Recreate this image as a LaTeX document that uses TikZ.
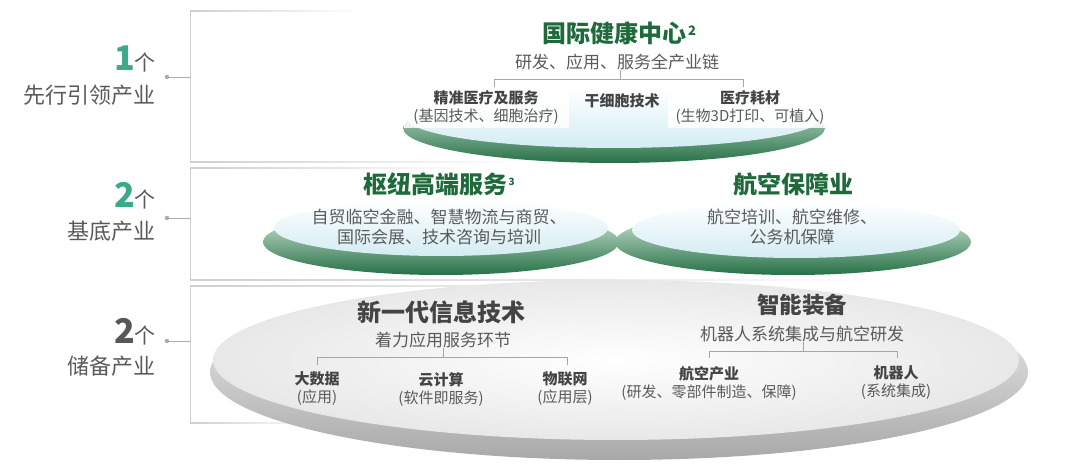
\documentclass[tikz,border=0pt]{standalone}
\usepackage{fontspec}
\setmainfont{Noto Sans CJK SC}
\usepackage{xcolor}
\usepackage{tikz}
\usetikzlibrary{calc}

\definecolor{hubgreen}{HTML}{1E6A3B}
\definecolor{numteal}{HTML}{3DA98A}
\definecolor{txtgray}{HTML}{5A5A5A}
\definecolor{boldgray}{HTML}{444444}
\definecolor{rimgreen}{HTML}{267046}
\definecolor{rimlight}{HTML}{DDF1E3}
\definecolor{topblue}{HTML}{D3ECF2}
\definecolor{framegray}{HTML}{CFCFCF}

\newcommand{\fsz}[1]{\fontsize{#1}{#1}\selectfont}

\begin{document}
\begin{tikzpicture}[x=1pt, y=-1pt,
    every node/.style={inner sep=0pt},
    gtitle/.style={font=\fsz{24}\bfseries, text=hubgreen},
    ctitle/.style={font=\fsz{24}\bfseries, text=boldgray},
    subline/.style={font=\fontsize{17}{20}\selectfont, text=txtgray, align=center},
    item/.style={font=\fontsize{15}{18}\selectfont, text=txtgray, align=center},
    itembox/.style={item, fill=white, fill opacity=0.85, text opacity=1, minimum width=165pt, minimum height=40pt},
    side/.style={font=\fsz{22}, text=txtgray, anchor=east},
    count/.style={anchor=base east, text=txtgray},
    brkline/.style={draw=gray!70, line width=0.9pt},
    pin/.style={circle, fill=gray!65, minimum size=4.5pt},
    pinline/.style={draw=gray!65, line width=0.9pt},
    ]
    \useasboundingbox (0,0) rectangle (1080,473);

    % Frames
    \draw[framegray, line width=1pt] (190,11.5) -- (190,162.5);
    \shade[left color=framegray, right color=white] (190,11) rectangle (360,12);
    \shade[left color=framegray, right color=white] (190,162) rectangle (520,163);
    \draw[framegray, line width=1pt] (190,168) -- (190,280);
    \shade[left color=framegray, right color=white] (190,167.5) rectangle (480,168.5);
    \shade[left color=framegray, right color=white] (190,279.5) rectangle (900,280.5);
    \shade[left color=white, middle color=gray!6, right color=white] (200,286) rectangle (1060,423);
    \draw[framegray, line width=1pt] (190,286) -- (190,423);
    \shade[left color=framegray, right color=white] (190,285.5) rectangle (700,286.5);
    \shade[left color=framegray, right color=white] (190,422.5) rectangle (320,423.5);

    % Left labels
    \node[count] (n1) at (156,71) {{\color{numteal}\fsz{34}\bfseries 1}{\fsz{21}个}};
    \node[side] (l1) at (156,95) {先行引领产业};
    \node[pin] (p1) at (167,77) {};
    \coordinate (f1) at (190,77);
    \draw[pinline] (p1) -- (f1);

    \node[count] (n2) at (156,208) {{\color{numteal}\fsz{34}\bfseries 2}{\fsz{21}个}};
    \node[side] (l2) at (156,231) {基底产业};
    \node[pin] (p2) at (167,218) {};
    \coordinate (f2) at (190,218);
    \draw[pinline] (p2) -- (f2);

    \node[count] (n3) at (156,344) {{\color{boldgray!90}\fsz{34}\bfseries 2}{\fsz{21}个}};
    \node[side] (l3) at (156,366) {储备产业};
    \node[pin] (p3) at (167,341) {};
    \coordinate (f3) at (190,341);
    \draw[pinline] (p3) -- (f3);

    % Reserve disc
    \shade[top color=gray!8, bottom color=gray!68] (619,372) ellipse [x radius=409pt, y radius=88pt];
    \shade[inner color=white, outer color=gray!18] (616,360) ellipse [x radius=403pt, y radius=80pt];

    % Base discs
    \shade[top color=rimlight, bottom color=rimgreen] (441,242) ellipse [x radius=178pt, y radius=33pt];
    \shade[top color=white, bottom color=topblue] (441,228) ellipse [x radius=167pt, y radius=28pt];
    \shade[top color=rimlight, bottom color=rimgreen] (793,242) ellipse [x radius=178pt, y radius=33pt];
    \shade[top color=white, bottom color=topblue] (796,230) ellipse [x radius=164pt, y radius=28pt];

    % Leading disc
    \shade[top color=rimlight, bottom color=rimgreen] (614,128) ellipse [x radius=211pt, y radius=35pt];
    \shade[top color=white, bottom color=topblue] (614,118) ellipse [x radius=207pt, y radius=30pt];

    % International health centre
    \node[gtitle] (health) at (614,33) {国际健康中心\rlap{\raisebox{7pt}{\fsz{13}\,2}}};
    \node[subline] (chain) at (617,62) {研发、应用、服务全产业链};
    \node[itembox] (pmed) at (486,108) {\textcolor{boldgray}{\bfseries 精准医疗及服务}\\(基因技术、细胞治疗)};
    \node[item] (stem) at (622,101) {\textcolor{boldgray}{\bfseries 干细胞技术}};
    \node[itembox] (mat) at (750,108) {\textcolor{boldgray}{\bfseries 医疗耗材}\\(生物3D打印、可植入)};
    \coordinate (tb) at (620,79);
    \draw[brkline] ($(pmed |- tb)+(8,8)$) -- ($(pmed |- tb)+(8,0)$) -- ($(mat |- tb)+(-7,0)$) -- ($(mat |- tb)+(-7,8)$);
    \draw[brkline] (tb |- chain.south) -- (tb);

    % Hub services
    \node[gtitle] (hub) at (435,184) {枢纽高端服务\rlap{\raisebox{8pt}{\fsz{10}\,3}}};
    \node[subline] (hubtxt) at (439,227) {自贸临空金融、智慧物流与商贸、\\国际会展、技术咨询与培训};
    \node[gtitle] (avia) at (793,184) {航空保障业};
    \node[subline] (aviatxt) at (792,227) {航空培训、航空维修、\\公务机保障};

    % Information technology
    \node[ctitle] (info) at (441,312) {新一代信息技术};
    \node[subline] (infosub) at (443,340) {着力应用服务环节};
    \node[item] (bigdata) at (317,389) {\textcolor{boldgray}{\bfseries 大数据}\\(应用)};
    \node[item] (cloud) at (441,389) {\textcolor{boldgray}{\bfseries 云计算}\\(软件即服务)};
    \node[item] (iot) at (565,389) {\textcolor{boldgray}{\bfseries 物联网}\\(应用层)};
    \coordinate (bb) at (443,357);
    \draw[brkline] ($(bigdata |- bb)+(0,8)$) -- (bigdata |- bb) -- ($(iot |- bb)+(2,0)$) -- ($(iot |- bb)+(2,8)$);
    \draw[brkline] (bb |- infosub.south) -- (bb);

    % Smart equipment
    \node[ctitle, font=\fsz{22.5}\bfseries] (smart) at (802,305) {智能装备};
    \node[subline] (smartsub) at (802,334) {机器人系统集成与航空研发};
    \node[item] (aero) at (709,383) {\textcolor{boldgray}{\bfseries 航空产业}\\(研发、零部件制造、保障)};
    \node[item] (robot) at (896,383) {\textcolor{boldgray}{\bfseries 机器人}\\(系统集成)};
    \coordinate (sb) at (803,351);
    \draw[brkline] ($(aero |- sb)+(0,7)$) -- (aero |- sb) -- ($(robot |- sb)+(1,0)$) -- ($(robot |- sb)+(1,7)$);
    \draw[brkline] (sb |- smartsub.south) -- (sb);
\end{tikzpicture}
\end{document}
